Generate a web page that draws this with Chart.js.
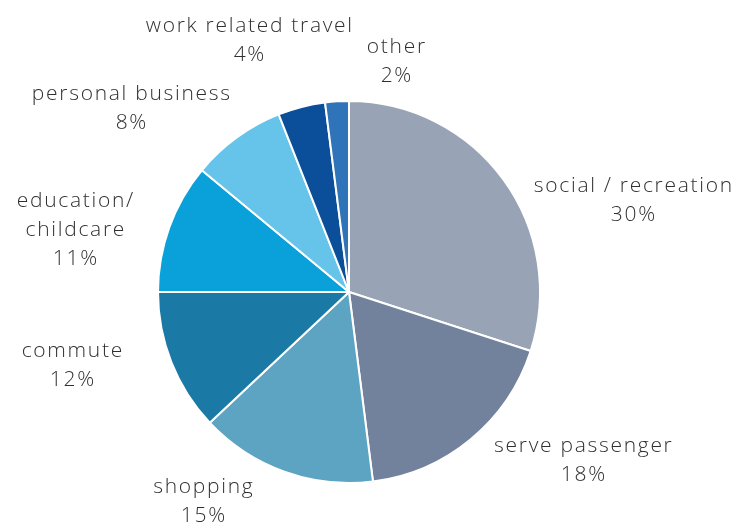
<!DOCTYPE html>
<html>
<head>
<meta charset="utf-8">
<script src="https://cdn.jsdelivr.net/npm/chart.js@4.4.1/dist/chart.umd.min.js"></script>
<style>
  html, body { margin: 0; padding: 0; background: #fff; }
  #wrap { width: 737px; height: 529px; position: relative; }
</style>
</head>
<body>
<div id="wrap"><canvas id="tripChart"></canvas></div>
<script>
/* --- DATA --- */
const purposes = ['social / recreation', 'serve passenger', 'shopping', 'commute',
                  'education/\nchildcare', 'personal business', 'work related travel', 'other'];
const shares = [30, 18, 15, 12, 11, 8, 4, 2];
const sliceColors = ['#98a3b6', '#72829d', '#5da3c2', '#1a79a5',
                     '#0aa0da', '#66c4ea', '#0b4e9a', '#2f73b8'];

// label anchor (centre x, first baseline) relative to the pie centre
const labelOffsets = [
    [284, -100], [234, 160], [-146, 201], [-277, 65],
    [-274, -85], [-218, -192], [-100, -260], [47, -239]
];

/* --- OUTSIDE LABELS --- */
const outsideLabels = {
    id: 'outsideLabels',
    afterDatasetsDraw(chart) {
        const ctx = chart.ctx;
        const arc = chart.getDatasetMeta(0).data[0];
        ctx.save();
        ctx.font = '300 21px "Open Sans", sans-serif';
        ctx.letterSpacing = '1.7px';
        ctx.fillStyle = '#303030';
        ctx.textAlign = 'center';
        ctx.textBaseline = 'alphabetic';
        purposes.forEach((name, i) => {
            const lines = name.split('\n').concat(shares[i] + '%');
            const x = arc.x + labelOffsets[i][0] + 0.8;
            let y = arc.y + labelOffsets[i][1];
            lines.forEach(line => { ctx.fillText(line, x, y); y += 29; });
        });
        ctx.restore();
    }
};

new Chart(document.getElementById('tripChart'), {
    type: 'pie',
    data: {
        labels: purposes,
        datasets: [{
            data: shares,
            backgroundColor: sliceColors,
            borderColor: '#ffffff',
            borderWidth: 2
        }]
    },
    options: {
        responsive: true,
        maintainAspectRatio: false,
        animation: false,
        layout: { padding: { left: 157, right: 196, top: 100, bottom: 45 } },
        plugins: { legend: { display: false }, tooltip: { enabled: false } }
    },
    plugins: [outsideLabels]
});
</script>
</body>
</html>
